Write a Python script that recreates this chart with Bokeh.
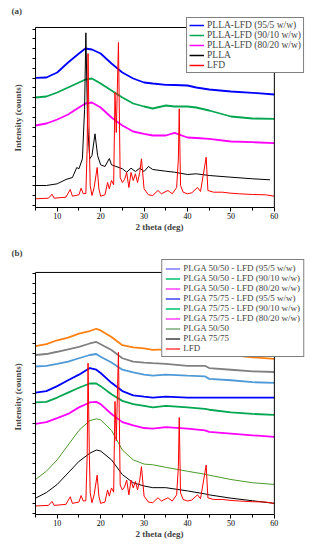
import numpy as np
from bokeh.plotting import figure
from bokeh.models import Legend, LegendItem, FixedTicker, Range1d, Title, BoxAnnotation
from bokeh.layouts import column
from bokeh.embed import file_html
from bokeh.resources import INLINE

# ---------------- data (arbitrary intensity units) ----------------
# Panel (a)
XA = [5, 7.5, 10, 12.5, 15, 16.5, 18, 20, 22.5, 25, 27.5, 30, 32, 35, 37, 40, 42, 45, 50, 55, 60]
PLLA_LFD_95 = [129.7, 130, 135, 145, 154, 159, 158, 154, 144, 135, 129, 125, 124, 122.7, 122.5, 122, 120, 118, 116, 114.7, 113]
PLLA_LFD_90 = [110, 111, 115, 120, 125, 128, 129, 124, 117, 110, 104, 101, 99, 102, 101, 101, 100, 97, 91, 89, 88.7]
PLLA_LFD_80 = [82, 84, 88, 93, 100, 104, 105, 100, 90, 82, 76, 73.7, 72, 72, 74.7, 70, 69.5, 68.7, 66, 65.3, 64.3]

PLLA_X = [5, 7.5, 10, 12, 13.5, 14.5, 15, 15.8, 16.3, 16.6, 17, 17.5, 18, 18.7, 19.3, 20, 21, 22, 22.5,
          24, 25, 26, 27, 28, 29, 30, 31, 32, 35, 37, 40, 42, 45, 50, 55, 59]
PLLA_Y = [22, 22, 23.7, 28, 30, 40, 38.7, 48.7, 98, 174.7, 82, 48.7, 52, 73.7, 52, 42.7, 41, 49, 42.7,
          40.3, 38.7, 35.3, 39.3, 36, 39.3, 36, 41, 38, 36.3, 35.3, 33, 33.7, 32, 30.3, 28.7, 27.7]

LFD_X = [5, 8, 8.8, 9.3, 12, 13, 13.5, 15, 15.5, 16, 16.6, 16.9, 17.1, 17.4, 17.6, 18, 18.5, 19.2, 19.6,
         20, 21, 21.6, 22, 22.5, 23, 23.3, 23.6, 24.1, 24.5, 25, 25.5, 26, 26.5, 27, 27.5, 28, 28.5,
         29, 29.4, 30, 31, 32, 33.2, 34, 35.5, 36.5, 37.5, 37.9, 38.1, 38.4, 39, 40, 41, 42.3, 43,
         44.3, 44.7, 46, 48, 50, 52, 55, 58, 60]
LFD_Y = [8.7, 9.3, 13.3, 9.3, 10.3, 18, 11.3, 12.7, 19.3, 13.7, 14, 60, 154, 60, 22, 12, 20, 40, 18.7,
         11.3, 12.7, 25, 18.7, 27, 22.7, 115, 75, 165, 30, 25, 28, 35, 20, 35, 27, 33.7, 25,
         35, 48.7, 18.7, 12.7, 12, 17, 13.7, 17, 13.7, 20, 48.7, 98.7, 22, 15.3, 13.7, 14.7, 20, 16,
         50.3, 17, 15.3, 15.3, 14.3, 13.7, 13, 12.7, 11.3]

# Panel (b)
XB = [5, 7.5, 10, 12.5, 15, 17.5, 19, 20, 22.5, 25, 27.5, 30, 32, 35, 40, 44, 45, 50, 55, 60]
PLGA5050_LFD_95 = [171.3, 173.3, 177.3, 180, 184, 186.7, 189, 187.3, 180.6, 172.3, 170, 169, 167.6, 168, 167.3, 168, 164.6, 162.3, 160, 158.3]
PLGA5050_LFD_90 = [162.3, 163.3, 165.6, 168, 170.6, 174, 175.6, 173.3, 167.3, 159, 155.6, 154.6, 154, 153.3, 151.3, 151.3, 149, 147.3, 145.6, 145]
PLGA5050_LFD_80 = [150.6, 151.3, 153.3, 155.6, 159, 162.3, 163.3, 160.6, 154.6, 147.3, 144.6, 142.3, 141.3, 142.3, 141.3, 140.6, 138, 136.6, 134.6, 134]
PLGA7575_LFD_95 = [124, 125.6, 130.6, 136.6, 142.3, 149, 147.3, 144, 134, 125.6, 121.3, 120, 119, 120, 119, 119, 119, 119, 119, 119]
PLGA7575_LFD_90 = [114, 114.6, 119, 124, 129, 133.3, 133.3, 130.6, 122.3, 115.6, 112.3, 110.6, 109, 110.6, 109, 107.5, 106.6, 104, 102.3, 101.3]
PLGA7575_LFD_80 = [92.3, 94, 98, 102.3, 109, 114, 114.6, 112.3, 102.3, 94, 90.6, 88, 87.3, 89, 87.3, 85.6, 84, 82.3, 80.6, 79]
PLGA5050 = [35.6, 44, 55.6, 70.6, 85.6, 95.6, 97.3, 96.3, 85.6, 65.6, 55.6, 51.3, 50.6, 48, 44, 41, 40, 35.6, 32.3, 30.6]
PLGA7575 = [16.6, 22.3, 30.6, 42.3, 54, 62.3, 65.6, 64.6, 55.6, 40.6, 32.3, 29, 27.3, 27.3, 24, 21, 20, 16.6, 14, 11.3]

LABELS_A = ["PLLA-LFD (95/5 w/w)", "PLLA-LFD (90/10 w/w)", "PLLA-LFD (80/20 w/w)", "PLLA", "LFD"]
LABELS_B = ["PLGA 50/50 - LFD (95/5 w/w)", "PLGA 50/50 - LFD (90/10 w/w)", "PLGA 50/50 - LFD (80/20 w/w)",
            "PLGA 75/75 - LFD (95/5 w/w)", "PLGA 75/75 - LFD (90/10 w/w)", "PLGA 75/75 - LFD (80/20 w/w)",
            "PLGA 50/50", "PLGA 75/75", "LFD"]
X_TICKS = [10, 20, 30, 40, 50, 60]
X_MINOR = [5, 15, 25, 35, 45, 55]
X_MIN, X_MAX = 5, 60
YMAX_A, YMAX_B = 180, 246.3

# ---------------- styling / layout ----------------
SERIF = "Liberation Serif"
BLUE, GREEN, MAGENTA, RED = "#0000ff", "#00a650", "#ff00ff", "#ff0000"
W = 305
LEFT = 32
BOX_W = 241.5                      # pixel width of the x = 5..60 box
FRAME_W = W - LEFT                 # frame reaches the right edge so the legend is not clipped
X_END = X_MIN + FRAME_W * (X_MAX - X_MIN) / BOX_W


def make_fig(height, top, bottom, y_top, ymax, yticks, tag, ylab_offset):
    p = figure(width=W, height=height, output_backend="svg", toolbar_location=None,
               x_range=Range1d(X_MIN, X_END), y_range=Range1d(0, y_top),
               min_border_left=LEFT, min_border_right=0, min_border_top=top, min_border_bottom=bottom)
    p.grid.visible = False
    p.outline_line_color = None
    p.background_fill_color = "white"
    p.border_fill_color = "white"
    xa = p.xaxis[0]
    xa.ticker = FixedTicker(ticks=X_TICKS, minor_ticks=X_MINOR)
    xa.bounds = (X_MIN, X_MAX)
    xa.major_tick_out = 4
    xa.major_tick_in = 0
    xa.minor_tick_out = 3
    xa.minor_tick_in = 0
    xa.major_label_standoff = 1
    xa.major_label_text_font = SERIF
    xa.major_label_text_font_size = "8px"
    xa.major_label_text_color = "black"
    xa.axis_line_color = "black"
    ya = p.yaxis[0]
    ya.ticker = FixedTicker(ticks=yticks, minor_ticks=[])
    ya.bounds = (0, ymax)
    ya.major_tick_out = 3
    ya.major_tick_in = 0
    ya.minor_tick_out = 0
    ya.major_label_text_color = None
    ya.major_label_text_font_size = "1px"
    ya.major_label_standoff = 0
    ya.axis_line_color = "black"
    # frame box (top and right edges)
    p.add_layout(BoxAnnotation(left=X_MIN, right=X_MAX, bottom=0, top=ymax, fill_alpha=0,
                               line_color="black", line_width=1, line_alpha=1))
    p.add_layout(Title(text=tag, align="left", offset=-24, text_font=SERIF, text_font_style="bold",
                       text_font_size="9px", standoff=2), "above")
    p.add_layout(Title(text="2 theta (deg)", align="left", offset=100, vertical_align="top",
                       text_font=SERIF, text_font_style="bold", text_font_size="9px", standoff=0), "below")
    p.add_layout(Title(text="Intensity (counts)", align="left", offset=ylab_offset,
                       text_font=SERIF, text_font_style="bold", text_font_size="9px", standoff=20), "left")
    return p


def add_legend(p, labels, colors, font_size, label_h, pad):
    items = []
    for lab, c in zip(labels, colors):
        r = p.line(x=[np.nan], y=[np.nan], line_color=c, line_width=1.5)
        items.append(LegendItem(label=lab, renderers=[r]))
    lg = Legend(items=items, location="top_right", label_text_font=SERIF, label_text_font_size=font_size,
                label_height=label_h, glyph_height=label_h, glyph_width=15, label_standoff=3, padding=pad,
                spacing=0, margin=1, border_line_color="black", border_line_width=1,
                background_fill_color="white", background_fill_alpha=1.0)
    p.add_layout(lg, "center")


# ---------------- panel (a) ----------------
pa = make_fig(244, 16, 37, YMAX_A + 11, YMAX_A, list(np.arange(2, YMAX_A, 9.8)), "(a)", 56)
pa.line(XA, PLLA_LFD_95, line_color=BLUE, line_width=1.8)
pa.line(XA, PLLA_LFD_90, line_color=GREEN, line_width=1.8)
pa.line(XA, PLLA_LFD_80, line_color=MAGENTA, line_width=1.8)
pa.line(PLLA_X, PLLA_Y, line_color="black", line_width=1)
pa.line(LFD_X, LFD_Y, line_color=RED, line_width=1)
add_legend(pa, LABELS_A, [BLUE, GREEN, MAGENTA, "black", RED], "9.5px", 10, 2)

# ---------------- panel (b) ----------------
KB = 243 / YMAX_B          # px per unit in panel (b)
pb = make_fig(298, 13, 28, 257 / KB, YMAX_B, list(np.arange(0.6, YMAX_B, 10.2)), "(b)", 84)
pb.line(XB, PLGA5050_LFD_95, line_color="#ff8010", line_width=1.8)
pb.line(XB, PLGA5050_LFD_90, line_color="#808080", line_width=1.8)
pb.line(XB, PLGA5050_LFD_80, line_color="#4f9ad6", line_width=1.8)
pb.line(XB, PLGA7575_LFD_95, line_color=BLUE, line_width=1.8)
pb.line(XB, PLGA7575_LFD_90, line_color=GREEN, line_width=1.8)
pb.line(XB, PLGA7575_LFD_80, line_color=MAGENTA, line_width=1.8)
pb.line(XB, PLGA5050, line_color="#4c9a2a", line_width=1)
pb.line(XB, PLGA7575, line_color="black", line_width=1)
pb.line(LFD_X, LFD_Y, line_color=RED, line_width=1)
add_legend(pb, LABELS_B, ["#7878ff", "#00c070", "#ff40ff", "#4040ff", "#00c070", "#ff40ff",
                          "#7aaa78", "#404040", "#ff4040"], "9px", 9, 3)

layout = column(pa, pb)
open("out.html", "w").write(file_html(layout, INLINE))
